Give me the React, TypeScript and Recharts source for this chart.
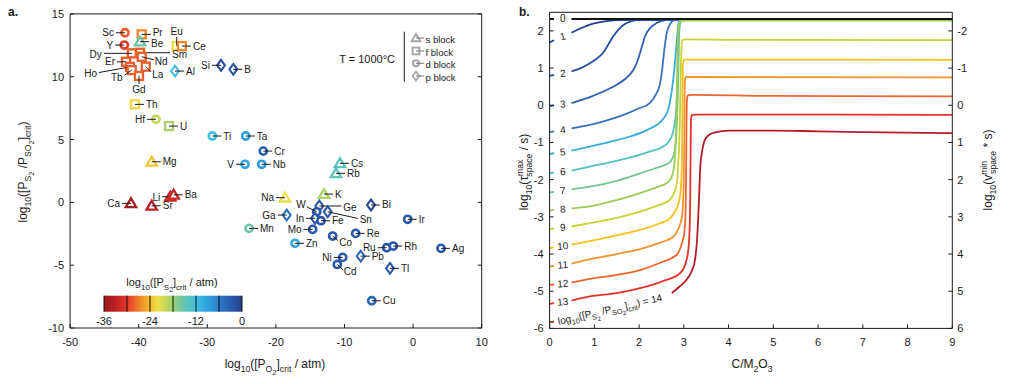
import React from 'react';
import { ScatterChart, Scatter, XAxis, YAxis, ComposedChart, Line } from 'recharts';

const FONT = '"Liberation Sans", Arial, Helvetica, sans-serif';
const INK = '#1a1a1a';

// ---------------- Panel a data ----------------
const elNames = ['Sc','Pr','Be','Eu','Ce','Y','Dy','Sm','Nd','Er','Ho','Tb','La','Gd','Al','Si','B','Th','Hf','U','Ti','Ta','Cr','V','Nb','Cs','Rb','Na','K','Mg','Ca','Li','Ba','Sr','Mn','Ge','W','Sn','Ga','In','Fe','Mo','Zn','Co','Re','Bi','Ir','Ru','Rh','Ag','Ni','Cd','Pb','Tl','Cu'];
const elPO2 = [-42.0,-39.56,-39.8,-34.46,-33.7,-42.1,-41.0,-39.81,-39.56,-41.85,-41.27,-41.02,-38.97,-39.96,-34.71,-28.0,-26.21,-40.54,-37.48,-35.58,-29.27,-24.4,-21.84,-24.5,-22.07,-10.66,-11.24,-18.67,-12.99,-38.1,-41.12,-35.4,-34.9,-38.1,-23.92,-13.67,-14.05,-12.45,-18.43,-14.3,-13.43,-14.64,-17.22,-11.72,-8.37,-6.14,-0.79,-3.85,-2.89,4.07,-10.26,-11.05,-7.64,-3.37,-6.03];
const elRatio = [13.5,13.37,12.79,12.44,12.44,12.52,11.86,11.91,11.59,11.19,10.78,10.53,10.8,10.06,10.45,10.91,10.59,7.8,6.61,6.07,5.28,5.28,4.08,3.03,3.03,3.11,2.31,0.37,0.66,3.23,-0.08,0.45,0.6,-0.27,-2.07,-0.29,-0.75,-0.75,-1.01,-1.27,-1.46,-2.15,-3.26,-2.68,-2.47,-0.21,-1.35,-3.61,-3.48,-3.66,-4.38,-4.94,-4.28,-5.25,-7.83];
const elPS2 = [-28.5,-26.5,-15.5,-22.5,-26.5,-29.8,-28.3,-28.3,-28.3,-28.3,-28.3,-28.3,-28.3,-28.3,-12.5,-1.5,-2.5,-22.5,-20,-18.5,-12,-9,-3.2,-9.5,-8.5,-14,-14.5,-22,-19,-23.5,-35,-32.5,-32,-33.5,-15.5,-2.5,-2.5,-2.5,-5,-2.5,-2.5,-2.5,-10,-2.5,-2.5,-0.3,-2.5,-2.5,-2.5,-2.5,-2.5,-2.5,-4,-3,-4];
const elBlock = ['d','f','s','f','f','d','f','f','f','f','f','f','f','f','p','p','p','f','d','f','d','d','d','d','d','s','s','s','s','s','s','s','s','s','d','p','d','p','p','p','d','d','d','d','d','p','d','d','d','d','d','d','p','p','d'];

const xTicksA = [-50, -40, -30, -20, -10, 0, 10];
const yTicksA = [-10, -5, 0, 5, 10, 15];
const cbarTicks = [-36, -30, -24, -18, -12, -6, 0];
const cbarLabels = [-36, -24, -12, 0];

// colormap stops for log10([PS2]crit / atm)
const cmapStops: [number, string][] = [
  [-36, '#971a1d'], [-33, '#bd2126'], [-30, '#e2362a'], [-27, '#f07d2c'], [-24, '#f6be2c'],
  [-22, '#ebe04a'], [-20, '#c6d85a'], [-18, '#9ccf72'], [-15.5, '#6cc5a6'], [-12, '#41bee0'],
  [-9, '#2fa2df'], [-6, '#2b7bc9'], [-3, '#2b5bae'], [0, '#25408d'],
];

// ---------------- Panel b data ----------------
type Pt = [number, number | null];
const curve0: Pt[] = [[0,2.32],[0.1,2.32],[0.3,null],[0.49,2.32],[9,2.32]];
const curve1: Pt[] = [[0,1.69],[0.1,1.75],[0.3,null],[0.49,1.95],[0.7,2.07],[0.9,2.17],[1.2,2.25],[1.5,2.29],[1.9,2.30],[9,2.30]];
const curve2: Pt[] = [[0,0.79],[0.1,0.82],[0.3,null],[0.49,0.91],[0.7,1.0],[0.9,1.13],[1.05,1.25],[1.2,1.42],[1.32,1.65],[1.42,1.85],[1.55,2.05],[1.65,2.16],[1.8,2.25],[1.95,2.29],[2.2,2.30],[9,2.30]];
const curve3: Pt[] = [[0,-0.02],[0.1,0.0],[0.3,null],[0.49,0.06],[0.7,0.14],[0.9,0.22],[1.2,0.37],[1.5,0.55],[1.7,0.72],[1.87,0.95],[1.95,1.15],[2.02,1.4],[2.08,1.65],[2.13,1.85],[2.25,2.08],[2.39,2.21],[2.6,2.29],[2.8,2.30],[9,2.30]];
const curve4: Pt[] = [[0,-0.72],[0.1,-0.70],[0.3,null],[0.49,-0.62],[0.9,-0.53],[1.3,-0.4],[1.65,-0.26],[2.0,-0.08],[2.24,0.06],[2.38,0.3],[2.47,0.59],[2.52,1.0],[2.56,1.45],[2.62,1.95],[2.7,2.2],[2.8,2.29],[2.95,2.30],[9,2.30]];
const curve5: Pt[] = [[0,-1.31],[0.1,-1.29],[0.3,null],[0.49,-1.22],[0.9,-1.11],[1.4,-0.97],[1.8,-0.84],[2.15,-0.68],[2.39,-0.53],[2.55,-0.35],[2.65,-0.12],[2.72,0.3],[2.77,0.77],[2.82,1.4],[2.85,1.85],[2.88,2.2],[2.93,2.29],[3.05,2.30],[9,2.30]];
const curve6: Pt[] = [[0,-1.83],[0.1,-1.81],[0.3,null],[0.49,-1.76],[0.9,-1.65],[1.4,-1.52],[1.87,-1.38],[2.25,-1.24],[2.54,-1.11],[2.68,-0.95],[2.75,-0.75],[2.8,-0.45],[2.83,-0.12],[2.86,0.8],[2.88,1.8],[2.91,2.2],[2.96,2.29],[3.1,2.30],[9,2.30]];
const curve7: Pt[] = [[0,-2.35],[0.1,-2.33],[0.3,null],[0.49,-2.26],[0.9,-2.19],[1.5,-2.03],[2.02,-1.83],[2.4,-1.68],[2.62,-1.58],[2.73,-1.47],[2.8,-1.2],[2.84,-0.6],[2.87,0.5],[2.89,1.6],[2.91,2.15],[2.96,2.28],[3.1,2.30],[9,2.30]];
const curve8: Pt[] = [[0,-2.83],[0.1,-2.81],[0.3,null],[0.49,-2.77],[0.9,-2.72],[1.5,-2.55],[2.02,-2.36],[2.4,-2.2],[2.62,-2.09],[2.72,-1.95],[2.77,-1.74],[2.81,-1.2],[2.84,0.0],[2.86,1.5],[2.88,2.1],[2.92,2.26],[3.05,2.28],[9,2.28]];
const curve9: Pt[] = [[0,-3.33],[0.1,-3.31],[0.3,null],[0.49,-3.26],[0.9,-3.17],[1.5,-3.03],[2.02,-2.86],[2.45,-2.68],[2.69,-2.54],[2.8,-2.3],[2.85,-2.01],[2.88,-1.47],[2.91,-0.5],[2.93,0.8],[2.95,1.6],[2.97,1.76],[3.05,1.77],[4,1.76],[9,1.75]];
const curve10: Pt[] = [[0,-3.84],[0.1,-3.82],[0.3,null],[0.49,-3.75],[0.9,-3.65],[1.5,-3.5],[2.02,-3.35],[2.45,-3.18],[2.69,-3.04],[2.82,-2.82],[2.9,-2.54],[2.94,-2.1],[2.96,-1.4],[2.97,0.0],[2.98,1.1],[3.0,1.23],[3.1,1.23],[9,1.22]];
const curve11: Pt[] = [[0,-4.34],[0.1,-4.32],[0.3,null],[0.49,-4.26],[0.9,-4.14],[1.5,-4.0],[2.02,-3.87],[2.45,-3.7],[2.77,-3.53],[2.9,-3.25],[2.96,-2.99],[2.99,-2.4],[3.01,-1.0],[3.02,0.5],[3.03,0.72],[3.05,0.76],[3.2,0.76],[9,0.75]];
const curve12: Pt[] = [[0,-4.83],[0.1,-4.82],[0.3,null],[0.49,-4.77],[0.9,-4.67],[1.5,-4.56],[2.02,-4.43],[2.5,-4.22],[2.84,-4.02],[2.96,-3.7],[3.01,-3.44],[3.04,-2.8],[3.05,-2.0],[3.06,-0.5],[3.07,0.15],[3.09,0.27],[3.2,0.28],[5,0.25],[9,0.24]];
const curve13: Pt[] = [[0,-5.34],[0.1,-5.32],[0.3,null],[0.49,-5.25],[0.9,-5.14],[1.5,-5.05],[2.02,-4.92],[2.5,-4.74],[2.92,-4.51],[3.05,-4.2],[3.1,-3.89],[3.13,-3.3],[3.14,-2.81],[3.15,-1.5],[3.16,-0.4],[3.18,-0.26],[3.3,-0.25],[9,-0.26]];
const curve14: Pt[] = [[0,-5.83],[0.1,-5.82],[1.0,null],[2.73,-5.05],[2.9,-4.88],[3.06,-4.69],[3.18,-4.45],[3.25,-4.16],[3.3,-3.53],[3.34,-2.5],[3.37,-1.6],[3.4,-1.3],[3.47,-0.93],[3.56,-0.8],[3.66,-0.74],[4.03,-0.68],[5,-0.68],[6,-0.7],[7,-0.72],[9,-0.75]];
const curves = [curve0, curve1, curve2, curve3, curve4, curve5, curve6, curve7, curve8, curve9, curve10, curve11, curve12, curve13, curve14];
const curveLevels = [0, 1, 2, 3, 4, 5, 6, 7, 8, 9, 10, 11, 12, 13, 14];
const curveColors = ['#111111','#1d3f94','#2350a5','#2b5fb0','#3672bd','#3aa9de','#52bfc2','#74c490','#9dcb56','#c7d333','#f5c11c','#f29331','#ee6530','#e2322b','#b51d26'];
const xTicksB = [0, 1, 2, 3, 4, 5, 6, 7, 8, 9];
const yTicksB = [-6, -5, -4, -3, -2, -1, 0, 1, 2];

// ---------------- helpers ----------------
function hex(h: string) { return [parseInt(h.slice(1,3),16), parseInt(h.slice(3,5),16), parseInt(h.slice(5,7),16)]; }
function cmap(v: number): string {
  const s = cmapStops;
  if (v <= s[0][0]) return s[0][1];
  if (v >= s[s.length-1][0]) return s[s.length-1][1];
  for (let i = 0; i < s.length - 1; i++) {
    if (v >= s[i][0] && v <= s[i+1][0]) {
      const t = (v - s[i][0]) / (s[i+1][0] - s[i][0]);
      const a = hex(s[i][1]), b = hex(s[i+1][1]);
      const c = a.map((q, k) => Math.round(q + (b[k] - q) * t));
      return `rgb(${c[0]},${c[1]},${c[2]})`;
    }
  }
  return '#000';
}

type Seg = [string, number, number?];
function Rich({ segs, fs }: { segs: Seg[]; fs: number }) {
  let cur = 0;
  return (
    <>
      {segs.map(([t, lvl, dx], i) => {
        const off = lvl === 0 ? 0 : lvl === 1 ? fs * 0.32 : lvl === 2 ? fs * 0.55 : -fs * 0.42;
        const size = lvl === 0 ? fs : lvl === 2 ? fs * 0.62 : fs * 0.72;
        const dy = off - cur; cur = off;
        return <tspan key={i} dy={dy} dx={dx || 0} fontSize={size}>{t}</tspan>;
      })}
    </>
  );
}

// label layout: [lineDx, lineDy, textDx, textDy, anchor]
type Lay = [number, number, number, number, 'start' | 'end' | 'middle'];
const R: Lay = [9, 0, 11, 0, 'start'];
const L: Lay = [-9, 0, -11, 0, 'end'];
const labelLayout: Record<string, Lay> = {
  Sc: L, Y: L, Er: L, Si: L, Hf: L, V: L, Na: L, Ca: L, Ga: L, In: L, Mo: L, Ru: L, Ni: L,
  Pr: [9, 0, 11, -2, 'start'],
  Be: [9, 0, 11, 2, 'start'],
  Li: [-8, 0, -10, 0.5, 'end'],
  Eu: [0, -9, 0, -15, 'middle'],
  Dy: [-28, 0, -30, 1, 'end'],
  Sm: [30, 0, 32, 1.5, 'start'],
  Nd: [12, 3, 13, 4.5, 'start'],
  Ho: [-31, 5.6, -33, 6.6, 'end'],
  Tb: [-7, 5, -9, 7.5, 'end'],
  La: [5, 5, 6.5, 7.5, 'start'],
  Gd: [0, 8, 0, 14, 'middle'],
  W: [-10, -5, -11, -7, 'end'],
  Sn: [30, 6.6, 32, 7.3, 'start'],
  Co: [5.5, 4.7, 6.5, 6.7, 'start'],
  Cd: [6, 5.7, 6.5, 7.5, 'start'],
  Ge: [22, 0, 24, 1, 'start'],
};

function Marker({ cx, cy, block, color, s = 1, sw = 2.3 }: any) {
  if (block === 'd') return <circle cx={cx} cy={cy} r={3.6 * s} fill="#fff" stroke={color} strokeWidth={sw + 0.3} />;
  if (block === 'f') return <rect x={cx - 4 * s} y={cy - 4 * s} width={8 * s} height={8 * s} fill="#fff" stroke={color} strokeWidth={sw} />;
  if (block === 's') return <polygon points={`${cx},${cy - 5 * s} ${cx + 5.2 * s},${cy + 3.8 * s} ${cx - 5.2 * s},${cy + 3.8 * s}`} fill="#fff" stroke={color} strokeWidth={sw} strokeLinejoin="miter" />;
  return <polygon points={`${cx},${cy - 5.4 * s} ${cx + 3.9 * s},${cy} ${cx},${cy + 5.4 * s} ${cx - 3.9 * s},${cy}`} fill="#fff" stroke={color} strokeWidth={sw * 0.9} />;
}

function ElementShape(props: any) {
  const { cx, cy, payload } = props;
  if (cx == null || cy == null) return null;
  const lay = labelLayout[payload.name] || R;
  return (
    <g>
      <Marker cx={cx} cy={cy} block={payload.block} color={cmap(payload.ps2)} />
      <line x1={cx} y1={cy} x2={cx + lay[0]} y2={cy + lay[1]} stroke={INK} strokeWidth={1} />
      <text x={cx + lay[2]} y={cy + lay[3]} textAnchor={lay[4]} dominantBaseline="central" fontSize={10} fontFamily={FONT} fill={INK}>{payload.name}</text>
    </g>
  );
}

const TickBottom = (p: any) => (
  <g>
    <line x1={p.x} y1={p.y} x2={p.x} y2={p.y - 4} stroke={INK} strokeWidth={1} />
    <text x={p.x} y={p.y + 14} textAnchor="middle" dominantBaseline="central" fontSize={11} fontFamily={FONT} fill={INK}>{p.payload.value}</text>
  </g>
);
const TickTop = (p: any) => <line x1={p.x} y1={p.y} x2={p.x} y2={p.y + 4} stroke={INK} strokeWidth={1} />;
const TickLeft = (p: any) => (
  <g>
    <line x1={p.x} y1={p.y} x2={p.x + 4} y2={p.y} stroke={INK} strokeWidth={1} />
    <text x={p.x - 6} y={p.y} textAnchor="end" dominantBaseline="central" fontSize={11} fontFamily={FONT} fill={INK}>{p.payload.value}</text>
  </g>
);
const TickRightPlain = (p: any) => <line x1={p.x} y1={p.y} x2={p.x - 4} y2={p.y} stroke={INK} strokeWidth={1} />;
const TickRightLabel = (p: any) => (
  <g>
    <line x1={p.x} y1={p.y} x2={p.x - 4} y2={p.y} stroke={INK} strokeWidth={1} />
    <text x={p.x + 5} y={p.y} textAnchor="start" dominantBaseline="central" fontSize={11} fontFamily={FONT} fill={INK}>{String(-p.payload.value)}</text>
  </g>
);

// axis sizes (small, so they render) and plot geometry
const AX_H = 20, AX_W = 30, AX_T = 1, AX_R = 1;
const A_W = 500, A_H = 384, A_PLOT = { top: 13.9, right: 18.3, bottom: 56, left: 70.1 };
const B_W = 529, B_H = 384, B_PLOT = { top: 12.3, right: 56.7, bottom: 55.6, left: 69.6 };
const toMargin = (p: any) => ({ top: p.top - AX_T, right: p.right - AX_R, bottom: p.bottom - AX_H, left: p.left - AX_W });
const pxPerX = (B_W - B_PLOT.left - B_PLOT.right) / 9;
const pxPerY = (B_H - B_PLOT.top - B_PLOT.bottom) / 8.5;

const curveLabelData = curves.slice(0, 14).map((c, i) => {
  const a = c[1], b = c[3];
  const ang = -Math.atan2(((b[1] as number) - (a[1] as number)) * pxPerY, (b[0] - a[0]) * pxPerX) * 180 / Math.PI;
  return { x: (a[0] + b[0]) / 2, y: ((a[1] as number) + (b[1] as number)) / 2, n: curveLevels[i], ang: ang * 0.6 };
});
const bigLabelData = [{ x: 0.19, y: -5.82, n: 14, ang: -12.9 }];

const CurveLabel = (p: any) => {
  const { cx, cy, payload } = p;
  return (
    <text x={cx} y={cy} textAnchor="middle" dominantBaseline="central" fontSize={10} fontFamily={FONT} fill={INK}
      transform={`rotate(${payload.ang} ${cx} ${cy})`}>{payload.n}</text>
  );
};
const BigLabel = (p: any) => {
  const { cx, cy, payload } = p;
  return (
    <text x={cx} y={cy + 3} textAnchor="start" fontSize={10} fontFamily={FONT} fill={INK}
      transform={`rotate(${payload.ang} ${cx} ${cy})`}>
      <Rich fs={10} segs={[['log', 0], ['10', 1], ['([P', 0], ['S', 1], ['2', 2], [' /P', 0], ['SO', 1], ['2', 2], [']', 0], ['crit', 1], [') = ' + payload.n, 0]]} />
    </text>
  );
};

const axisCommon = { type: 'number' as const, allowDataOverflow: true, interval: 0 as const, tickSize: 0, tickMargin: 0, stroke: INK };

export default function App() {
  const elements = elNames.map((name, i) => ({ name, x: elPO2[i], y: elRatio[i], ps2: elPS2[i], block: elBlock[i] }));
  const order = [1, 2, 3, 4, 5, 6, 7, 8, 9, 10, 11, 12, 13, 14, 0];
  const cb = { x0: 104, x1: 242, y0: 295.7, y1: 311.7 };
  const cbx = (v: number) => cb.x0 + (v + 36) / 36 * (cb.x1 - cb.x0);
  const legendRows: [string, string, number][] = [['s', 's block', 39], ['f', 'f block', 52], ['d', 'd block', 64.3], ['p', 'p block', 77]];

  return (
    <div style={{ position: 'absolute', left: 0, top: 0, width: 1009, height: 384, background: '#fff', fontFamily: FONT }}>
      <div style={{ position: 'absolute', left: 0, top: 0 }}>
        <ScatterChart width={A_W} height={A_H} margin={toMargin(A_PLOT)}>
          <XAxis {...axisCommon} dataKey="x" domain={[-50, 10]} ticks={xTicksA} height={AX_H} tick={TickBottom} />
          <XAxis {...axisCommon} xAxisId="top" orientation="top" domain={[-50, 10]} ticks={xTicksA} height={AX_T} tick={TickTop} />
          <YAxis {...axisCommon} dataKey="y" domain={[-10, 15]} ticks={yTicksA} width={AX_W} tick={TickLeft} />
          <YAxis {...axisCommon} yAxisId="right" orientation="right" domain={[-10, 15]} ticks={yTicksA} width={AX_R} tick={TickRightPlain} />
          <Scatter data={elements} shape={ElementShape} isAnimationActive={false} />
        </ScatterChart>
      </div>
      <div style={{ position: 'absolute', left: 480, top: 0 }}>
        <ComposedChart width={B_W} height={B_H} margin={toMargin(B_PLOT)}>
          <XAxis {...axisCommon} dataKey="x" domain={[0, 9]} ticks={xTicksB} height={AX_H} tick={TickBottom} />
          <XAxis {...axisCommon} xAxisId="top" orientation="top" domain={[0, 9]} ticks={xTicksB} height={AX_T} tick={TickTop} />
          <YAxis {...axisCommon} dataKey="y" domain={[-6, 2.5]} ticks={yTicksB} width={AX_W} tick={TickLeft} />
          <YAxis {...axisCommon} yAxisId="right" orientation="right" domain={[-6, 2.5]} ticks={yTicksB} width={AX_R} tick={TickRightLabel} />
          {order.map((i) => (
            <Line key={i} data={curves[i].map(([x, y]) => ({ x, y }))} dataKey="y" type="monotone" stroke={curveColors[i]}
              strokeWidth={i === 0 ? 2.2 : 1.8} dot={false} activeDot={false} connectNulls={false} isAnimationActive={false} />
          ))}
          <Scatter data={curveLabelData} dataKey="y" shape={CurveLabel} isAnimationActive={false} />
          <Scatter data={bigLabelData} dataKey="y" shape={BigLabel} isAnimationActive={false} />
        </ComposedChart>
      </div>
      <svg width={1009} height={384} style={{ position: 'absolute', left: 0, top: 0, pointerEvents: 'none' }} fontFamily={FONT}>
        <defs>
          <linearGradient id="cbar" x1="0" x2="1" y1="0" y2="0">
            {cmapStops.map(([v, c], i) => <stop key={i} offset={(v + 36) / 36} stopColor={c} />)}
          </linearGradient>
        </defs>
        <text x={8} y={16} fontSize={12} fontWeight="bold" fill={INK}>a.</text>
        <text x={519} y={16} fontSize={12} fontWeight="bold" fill={INK}>b.</text>
        <text x={275} y={368} textAnchor="middle" fontSize={12} fill={INK}>
          <Rich fs={12} segs={[['log', 0], ['10', 1], ['([P', 0], ['O', 1], ['2', 2], [']', 0], ['crit', 1], [' / atm)', 0]]} />
        </text>
        <text transform="translate(27,172) rotate(-90)" textAnchor="middle" fontSize={12} fill={INK}>
          <Rich fs={12} segs={[['log', 0], ['10', 1], ['([P', 0], ['S', 1], ['2', 2], [' /P', 0], ['SO', 1], ['2', 2], [']', 0], ['crit', 1], [')', 0]]} />
        </text>
        <text x={395} y={59.3} textAnchor="end" dominantBaseline="central" fontSize={11} fill={INK}>T = 1000°C</text>
        <line x1={404.3} y1={31.7} x2={404.3} y2={81.7} stroke={INK} strokeWidth={1} />
        {legendRows.map(([b, t, y]) => (
          <g key={b}>
            <Marker cx={416} cy={y - 1} block={b} color="#a6a6a6" s={0.85} sw={1.9} />
            <line x1={416} y1={y - 1} x2={424} y2={y - 1} stroke="#7a7a7a" strokeWidth={1} />
            <text x={425.5} y={y} dominantBaseline="central" fontSize={9.5} fill={INK}>{t}</text>
          </g>
        ))}
        <text x={172} y={286} textAnchor="middle" fontSize={11} fill={INK}>
          <Rich fs={11} segs={[['log', 0], ['10', 1], ['([P', 0], ['S', 1], ['2', 2], [']', 0], ['crit', 1], [' / atm)', 0]]} />
        </text>
        <rect x={cb.x0} y={cb.y0} width={cb.x1 - cb.x0} height={cb.y1 - cb.y0} fill="url(#cbar)" />
        {cbarTicks.map((v) => <line key={v} x1={cbx(v)} x2={cbx(v)} y1={cb.y0} y2={cb.y1} stroke="#111" strokeWidth={1} />)}
        {cbarLabels.map((v) => <text key={v} x={cbx(v)} y={320.5} textAnchor="middle" dominantBaseline="central" fontSize={11} fill={INK}>{v}</text>)}
        <text x={752} y={368} textAnchor="middle" fontSize={12} fill={INK}>
          <Rich fs={12} segs={[['C/M', 0], ['2', 1], ['O', 0], ['3', 1]]} />
        </text>
        <text transform="translate(528,172) rotate(-90)" textAnchor="middle" fontSize={12} fill={INK}>
          <Rich fs={12} segs={[['log', 0], ['10', 1], ['(τ', 0], ['max', -1], ['space', 1, -17], [' / s)', 0]]} />
        </text>
        <text transform="translate(992,170) rotate(-90)" textAnchor="middle" fontSize={12} fill={INK}>
          <Rich fs={12} segs={[['log', 0], ['10', 1], ['(v', 0], ['min', -1], ['space', 1, -13], [' * s)', 0]]} />
        </text>
      </svg>
    </div>
  );
}
